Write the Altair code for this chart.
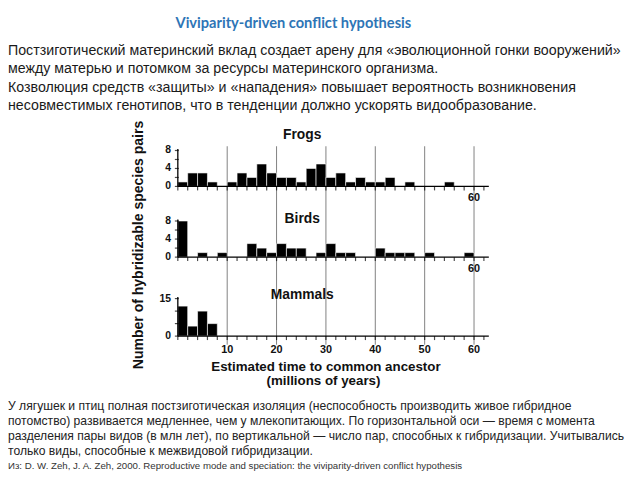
import altair as alt
import pandas as pd

# ---------------- data ----------------
bin_start = list(range(0, 60, 2))
bin_width = 2
frogs = [1, 3, 3, 1, 0, 1, 3, 2, 5, 3, 2, 2, 1, 4, 5, 2, 3, 1, 2, 1, 1, 2, 0, 1, 0, 0, 0, 1, 0, 0]
birds = [8, 0, 1, 0, 1, 0, 0, 3, 2, 1, 3, 2, 2, 0, 1, 3, 1, 1, 0, 0, 2, 1, 1, 1, 0, 1, 0, 0, 0, 1]
mammals = [12, 4, 10, 5, 0, 0, 0, 0, 0, 0, 0, 0, 0, 0, 0, 0, 0, 0, 0, 0, 0, 0, 0, 0, 0, 0, 0, 0, 0, 0]

x_major = [10, 20, 30, 40, 50, 60]
x_minor = list(range(0, 64, 2))
x_max = 63
frog_ticks = [0, 2, 4, 6, 8]
frog_labels = [0, 4, 8]
bird_ticks = [0, 2, 4, 6, 8]
bird_labels = [0, 4, 8]
mammal_ticks = [0, 5, 10, 15]
mammal_labels = [0, 15]

panel_names = ["Frogs", "Birds", "Mammals"]
x_title_lines = ["Estimated time to common ancestor", "(millions of years)"]
y_title = "Number of hybridizable species pairs"

title = "Viviparity-driven conflict hypothesis"
intro_lines = [
    "Постзиготический материнский вклад создает арену для «эволюционной гонки вооружений»",
    "между матерью и потомком за ресурсы материнского организма.",
    "Козволюция средств «защиты» и «нападения» повышает вероятность возникновения",
    "несовместимых генотипов, что в тенденции должно ускорять видообразование.",
]
caption_lines = [
    "У лягушек и птиц полная постзиготическая изоляция (неспособность производить живое гибридное",
    "потомство) развивается медленнее, чем у млекопитающих. По горизонтальной оси — время с момента",
    "разделения пары видов (в млн лет), по вертикальной — число пар, способных к гибридизации. Учитывались",
    "только виды, способные к межвидовой гибридизации.",
]
citation = "Из: D. W. Zeh, J. A. Zeh, 2000. Reproductive mode and speciation: the viviparity-driven conflict hypothesis"

# ---------------- chart ----------------
FIG_FONT = "Liberation Sans"
one = pd.DataFrame({"k": [0]})
xs = alt.Scale(domain=[0, x_max], range=[172, 487], nice=False, zero=False)


def panel(counts, ydom, yrng, ticks, labels, name, xlabels, name_y, xdy):
    ys = alt.Scale(domain=ydom, range=yrng, nice=False, zero=False)
    df = pd.DataFrame({"start": bin_start, "count": counts})
    df["end"] = df["start"] + bin_width
    df = df[df["count"] > 0]
    bars = alt.Chart(df).mark_bar(color="black", stroke="white", strokeWidth=0.6).encode(
        x=alt.X("start:Q", scale=xs, axis=None),
        x2="end:Q",
        y=alt.Y("count:Q", scale=ys, axis=None),
        y2=alt.datum(0),
    )
    xline = alt.Chart(pd.DataFrame({"a": [0], "b": [x_max], "y": [0]})).mark_rule(
        color="black", strokeWidth=1.3
    ).encode(
        x=alt.X("a:Q", scale=xs, axis=None), x2="b:Q", y=alt.Y("y:Q", scale=ys, axis=None)
    )
    xt = alt.Chart(pd.DataFrame({"t": x_minor, "y": 0})).mark_tick(
        orient="vertical", size=4, thickness=1.2, color="black", yOffset=2
    ).encode(x=alt.X("t:Q", scale=xs, axis=None), y=alt.Y("y:Q", scale=ys, axis=None))
    yline = alt.Chart(pd.DataFrame({"x": [0], "a": [0], "b": [ydom[1] * 1.04]})).mark_rule(
        color="black", strokeWidth=1.3
    ).encode(
        x=alt.X("x:Q", scale=xs, axis=None), y=alt.Y("a:Q", scale=ys, axis=None), y2="b:Q"
    )
    yt = alt.Chart(pd.DataFrame({"t": ticks, "x": 0})).mark_tick(
        orient="horizontal", size=4, thickness=1.2, color="black", xOffset=-1
    ).encode(x=alt.X("x:Q", scale=xs, axis=None), y=alt.Y("t:Q", scale=ys, axis=None))
    yl = alt.Chart(pd.DataFrame({"t": labels, "x": 0})).mark_text(
        align="right", baseline="middle", dx=-7, font=FIG_FONT, fontWeight="bold", fontSize=10.5, color="#111"
    ).encode(
        x=alt.X("x:Q", scale=xs, axis=None), y=alt.Y("t:Q", scale=ys, axis=None), text="t:Q"
    )
    xl = alt.Chart(pd.DataFrame({"t": xlabels, "y": 0})).mark_text(
        align="center", baseline="middle", dy=xdy, font=FIG_FONT, fontWeight="bold", fontSize=11, color="#111"
    ).encode(
        x=alt.X("t:Q", scale=xs, axis=None), y=alt.Y("y:Q", scale=ys, axis=None), text="t:Q"
    )
    nm = alt.Chart(one).mark_text(
        text=name, align="center", baseline="middle", font=FIG_FONT, fontWeight="bold", fontSize=14, color="#111"
    ).encode(x=alt.value(298), y=alt.value(name_y))
    return [bars, xline, xt, yline, yt, yl, xl, nm]


grid = alt.Chart(pd.DataFrame({"g": x_major})).mark_rule(color="#808080", strokeWidth=1).encode(
    x=alt.X("g:Q", scale=xs, axis=None), y=alt.value(137), y2=alt.value(338)
)

layers = [grid]
layers += panel(frogs, [0, 8], [177.7, 141.3], frog_ticks, frog_labels, panel_names[0], [60], 126, 11.5)
layers += panel(birds, [0, 8], [249.3, 212.7], bird_ticks, bird_labels, panel_names[1], [60], 211, 12.5)
layers += panel(mammals, [0, 15], [329.3, 291.3], mammal_ticks, mammal_labels, panel_names[2], x_major, 288, 14)

xtitle1 = alt.Chart(one).mark_text(
    text=x_title_lines[0], align="center", baseline="middle", font=FIG_FONT,
    fontWeight="bold", fontSize=13.5, color="#111"
).encode(x=alt.value(322), y=alt.value(360.5))
xtitle2 = alt.Chart(one).mark_text(
    text=x_title_lines[1], align="center", baseline="middle", font=FIG_FONT,
    fontWeight="bold", fontSize=13.5, color="#111"
).encode(x=alt.value(319.5), y=alt.value(374.6))
ytitle = alt.Chart(one).mark_text(
    text=y_title, align="center", baseline="middle", angle=270, font=FIG_FONT,
    fontWeight="bold", fontSize=14.2, color="#111"
).encode(x=alt.value(132.5), y=alt.value(237))

head = alt.Chart(one).mark_text(
    text=title, align="center", baseline="middle", font="Lato", fontWeight="bold", fontSize=14.8, color="#2e75b6"
).encode(x=alt.value(289), y=alt.value(13))
intro = alt.Chart(one).mark_text(
    text=intro_lines, align="left", baseline="alphabetic", lineHeight=18.6, font="Liberation Sans",
    fontSize=14.4, color="#1a1a1a"
).encode(x=alt.value(0), y=alt.value(44.5))
caption = alt.Chart(one).mark_text(
    text=caption_lines, align="left", baseline="alphabetic", lineHeight=15.4,
    font="Liberation Sans", fontSize=12.3, color="#222"
).encode(x=alt.value(0), y=alt.value(404))
cite = alt.Chart(one).mark_text(
    text=citation, align="left", baseline="alphabetic", font="Liberation Sans",
    fontSize=9.8, color="#333"
).encode(x=alt.value(0), y=alt.value(464))

layers += [xtitle1, xtitle2, ytitle, head, intro, caption, cite]

chart = alt.layer(*layers).resolve_scale(y="independent").properties(
    width=632, height=472, padding=0, autosize=alt.AutoSizeParams(type="none"),
    background="white",
).configure_view(stroke=None)

chart.save("out.html", embed_options={"renderer": "svg", "actions": False})
